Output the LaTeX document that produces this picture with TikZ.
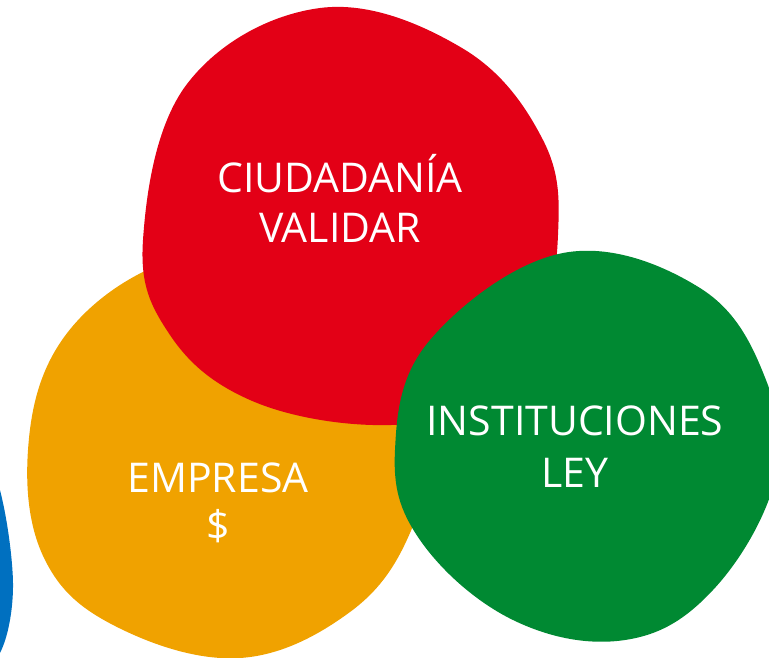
\documentclass[tikz,border=0pt]{standalone}
\usepackage{fontspec}
\setmainfont{Open Sans}
\definecolor{rojo}{RGB}{227,0,22}
\definecolor{naranja}{RGB}{240,162,0}
\definecolor{verde}{RGB}{0,137,50}
\definecolor{azul}{RGB}{0,112,192}
\begin{document}
\begin{tikzpicture}[x=1pt,y=-1pt,
    mancha/.style={smooth cycle, tension=0.65},
    rotulo/.style={text=white, font=\fontsize{41}{50}\selectfont, anchor=base, inner sep=0pt}]
    \useasboundingbox (0,0) rectangle (769,657);
    \clip (0,0) rectangle (769,657);
    % manchas
    \fill[azul] plot[mancha] coordinates {(-18,455) (13,583) (-15,665) (-80,570)};
    \fill[naranja] plot[mancha] coordinates {(147,270) (60,343) (28,450) (45,560) (117,627) (240,658) (350,612) (410,533) (425,440) (370,320) (240,258)};
    \fill[rojo] plot[mancha] coordinates {(320,8) (462,48) (543,140) (558,235) (535,330) (460,405) (373,425) (250,400) (170,335) (143,240) (187,84)};
    \fill[verde] plot[mancha] coordinates {(563,253) (700,288) (766,380) (775,480) (713,590) (625,640) (513,620) (420,540) (395,450) (430,340)};
    % textos
    \node[rotulo] (ciudadania) at (340,192) {CIUDADANÍA};
    \node[rotulo] (validar) at (340,242) {VALIDAR};
    \node[rotulo] (empresa) at (218,492) {EMPRESA};
    \node[rotulo] (dinero) at (218,540) {\$};
    \node[rotulo] (instituciones) at (575,435) {INSTITUCIONES};
    \node[rotulo] (ley) at (575,487) {LEY};
\end{tikzpicture}
\end{document}
